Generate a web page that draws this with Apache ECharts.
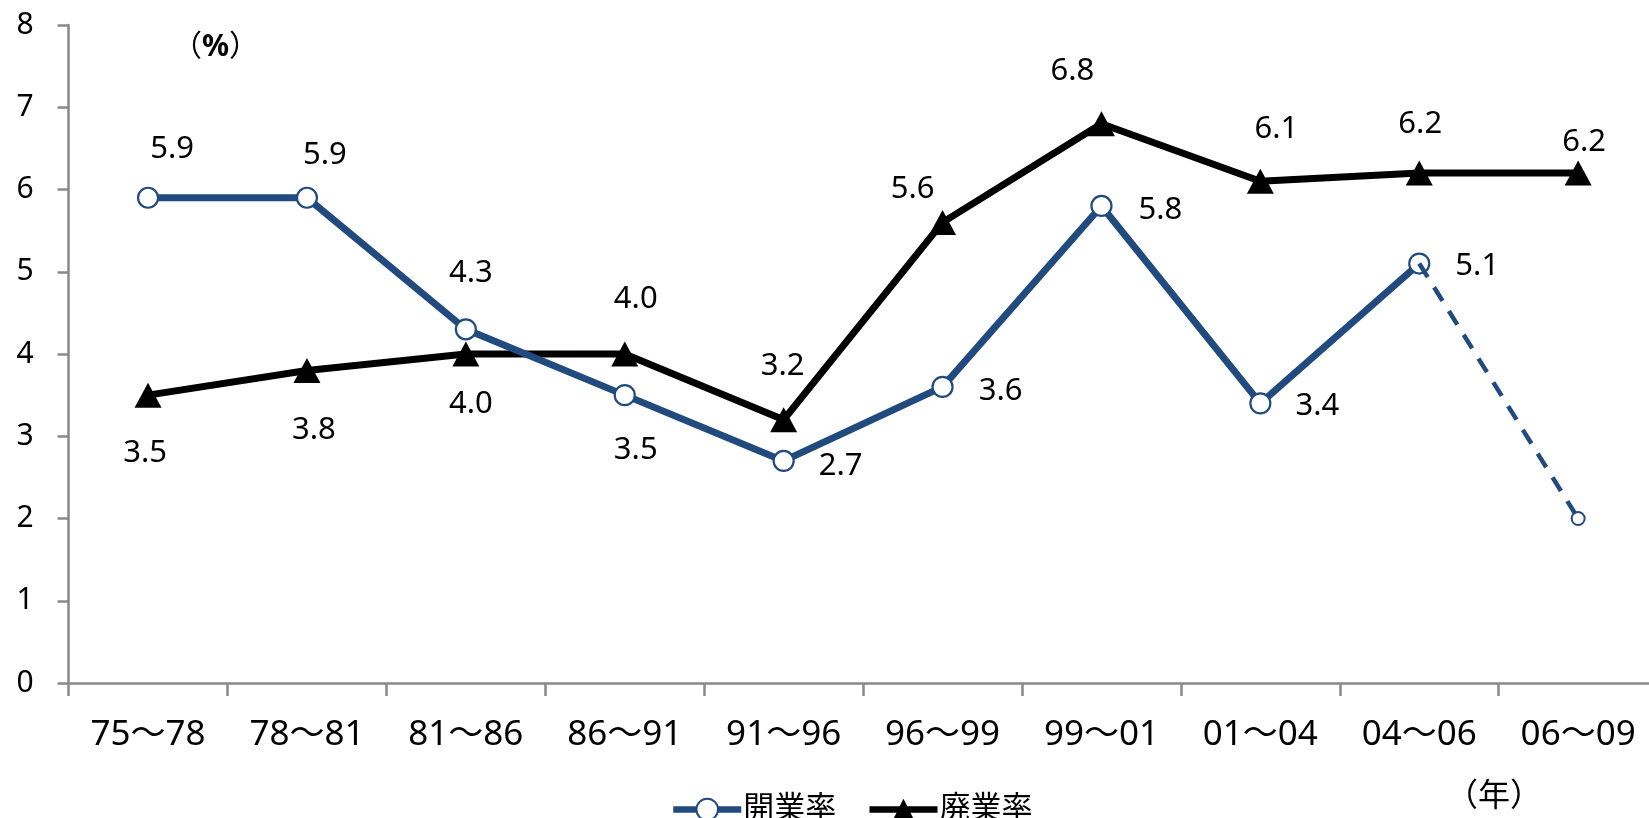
<!DOCTYPE html>
<html>
<head>
<meta charset="utf-8">
<script src="https://cdn.jsdelivr.net/npm/echarts@6/dist/echarts.min.js"></script>
<style>
html,body{margin:0;padding:0;background:#fff;}
#chart{width:1649px;height:818px;}
</style>
</head>
<body>
<div id="chart"></div>
<script>
// ---- data ----
const categories = ['75～78','78～81','81～86','86～91','91～96','96～99','99～01','01～04','04～06','06～09'];
const openRate  = [5.9, 5.9, 4.3, 3.5, 2.7, 3.6, 5.8, 3.4, 5.1, 2.0];   // 開業率
const closeRate = [3.5, 3.8, 4.0, 4.0, 3.2, 5.6, 6.8, 6.1, 6.2, 6.2];   // 廃業率
const openName = '開業率';
const closeName = '廃業率';
const xUnit = '（年）';
const solidCount = 9; // open-rate points joined by the solid line; last segment dashed

// ---- label placement (styling only) ----
const openLabelOffsets  = [[24,-49],[18,-43],[5,-56],[11,55],[57,5],[58,4],[59,4],[57,3],[58,3],null];
const closeLabelOffsets = [[-3,58],[7,60],[5,50],[11,-55],[-1,-54],[-30,-33],[-29,-53],[16,-52],[1,-49],[6,-31]];

const FONT = "'Noto Sans', 'Noto Sans CJK JP', sans-serif";
const BLUE = '#214a7e';

function lbl(off){
  if(!off) return {show:false};
  return {show:true, position:'inside', offset:off, align:'center', verticalAlign:'middle',
    color:'#000', fontSize:31, fontFamily:FONT, formatter:p=>Number(p.value).toFixed(1)};
}

const openSolid = openRate.map((v,i)=> i < solidCount ? {value:v, label:lbl(openLabelOffsets[i])} : '-');
const openDashed = openRate.map((v,i)=>{
  if(i === solidCount-1) return {value:v, symbol:'none', label:{show:false}};
  if(i >= solidCount) return {value:v, label:{show:false}};
  return '-';
});
const closeData = closeRate.map((v,i)=>({value:v, label:lbl(closeLabelOffsets[i])}));

const chart = echarts.init(document.getElementById('chart'), null, {renderer:'canvas'});
chart.setOption({
  animation:false,
  backgroundColor:'#fff',
  textStyle:{fontFamily:FONT},
  grid:{left:68.6, top:25, width:1589, height:658, containLabel:false, outerBoundsMode:'none'},
  legend:{
    data:[openName, closeName],
    left:665, top:789,
    itemWidth:68, itemHeight:27, itemGap:30,
    lineStyle:{width:6.5},
    textStyle:{fontSize:31, color:'#000', fontFamily:FONT, padding:[0,0,0,-3]}
  },
  xAxis:{
    type:'category', data:categories, boundaryGap:true,
    axisLine:{lineStyle:{color:'#898989', width:2.5}},
    axisTick:{show:true, length:13, lineStyle:{color:'#898989', width:2.5}},
    axisLabel:{fontSize:35, color:'#000', margin:35, fontFamily:FONT, interval:0}
  },
  yAxis:{
    type:'value', min:0, max:8, interval:1,
    splitLine:{show:false},
    axisLine:{show:true, lineStyle:{color:'#898989', width:2.5}},
    axisTick:{show:true, length:11, lineStyle:{color:'#898989', width:2.5}},
    axisLabel:{fontSize:30, color:'#000', margin:35, fontFamily:FONT}
  },
  graphic:[
    {type:'text', left:172, top:32, style:{text:'（{b|%}）', fontSize:30, fill:'#000', fontFamily:FONT,
      rich:{b:{fontSize:30, fontWeight:'bold', fontFamily:FONT}}}},
    {type:'text', left:1446, top:781, style:{text:xUnit, fontSize:32, fill:'#000', fontFamily:FONT}}
  ],
  series:[
    {
      name:openName, type:'line', data:openSolid, z:3,
      symbol:'circle', symbolSize:20,
      itemStyle:{color:'#fff', borderColor:BLUE, borderWidth:2.2},
      lineStyle:{color:BLUE, width:7},
      emphasis:{disabled:true}
    },
    {
      name:closeName, type:'line', data:closeData, z:2,
      symbol:'triangle', symbolSize:[27,25],
      itemStyle:{color:'#000'},
      lineStyle:{color:'#000', width:7},
      emphasis:{disabled:true}
    },
    {
      name:openName, type:'line', data:openDashed, z:4, connectNulls:false,
      symbol:'circle', symbolSize:13,
      itemStyle:{color:'#fff', borderColor:BLUE, borderWidth:2},
      lineStyle:{color:BLUE, width:4.5, type:[16,12]},
      emphasis:{disabled:true}
    }
  ]
});
</script>
</body>
</html>
